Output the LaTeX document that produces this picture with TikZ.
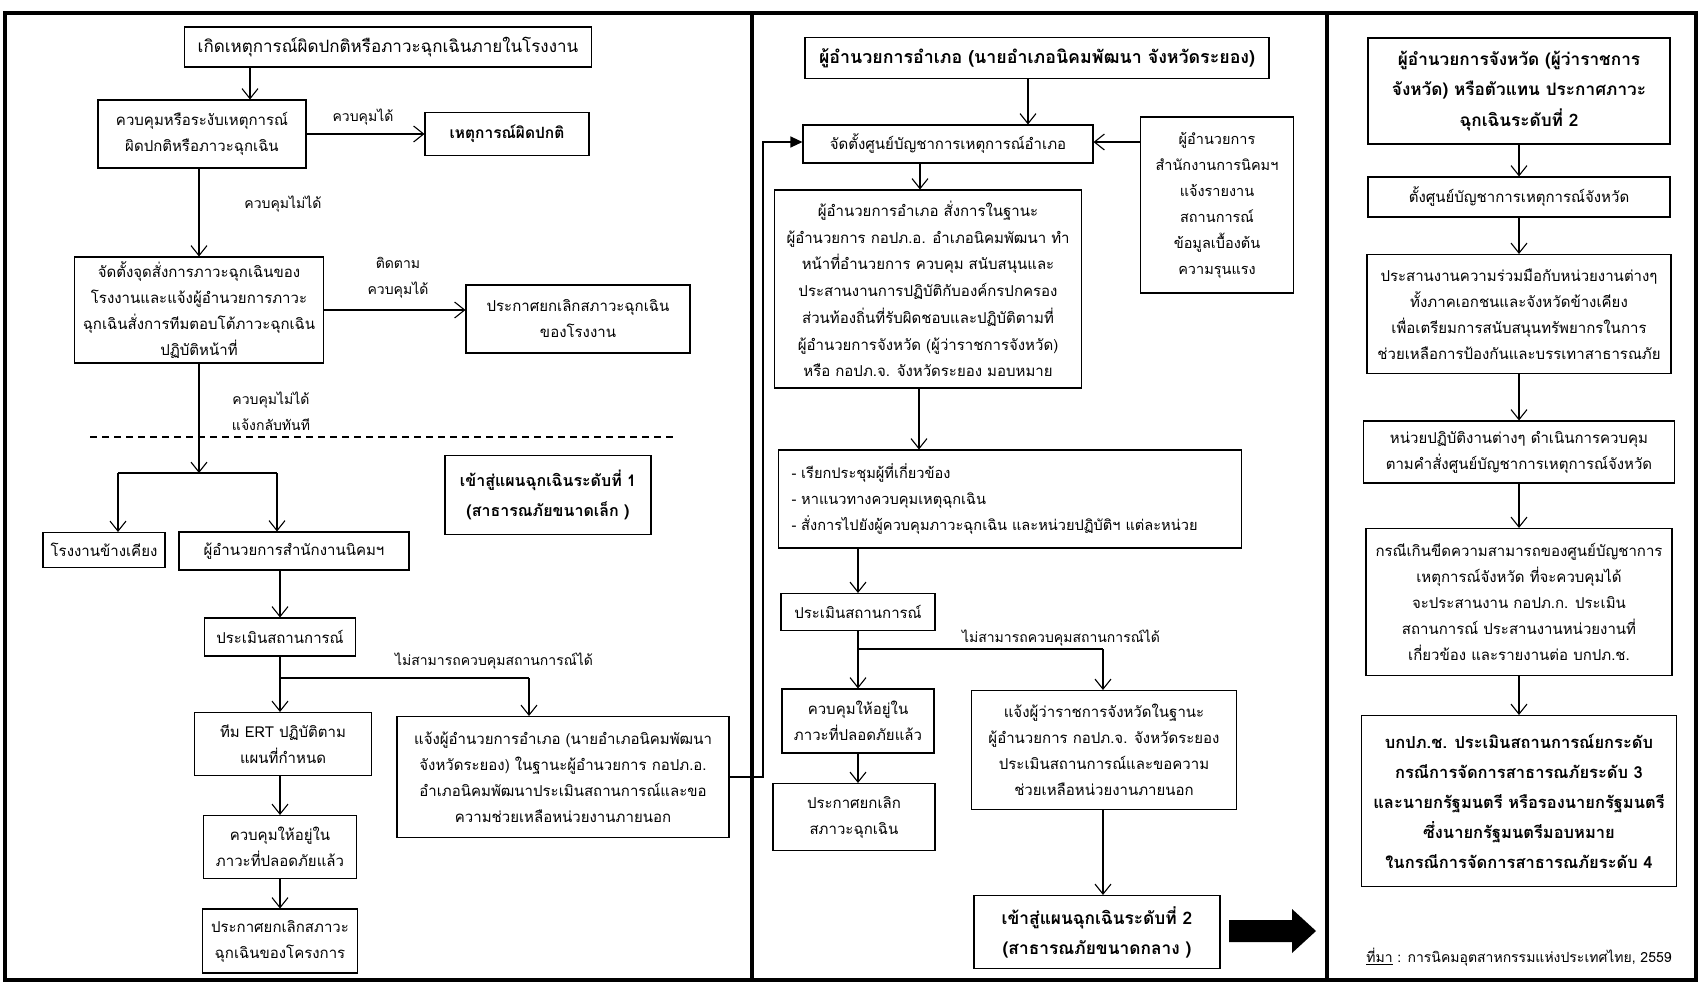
\documentclass[tikz,border=0pt]{standalone}
\usepackage{fontspec}
\setmainfont[Script=Thai]{Loma}
\usetikzlibrary{arrows.meta}
\begin{document}
\begin{tikzpicture}[x=1pt,y=-1pt,
  box/.style={draw, line width=1.1pt, fill=white, align=center, inner sep=2pt, font=\fontsize{15}{26}\selectfont},
  bbox/.style={box, font=\fontsize{16.5}{30}\selectfont\bfseries},
  lbl/.style={font=\fontsize{14}{26}\selectfont, align=center, inner sep=0pt},
  arr/.style={line width=1.1pt, -{Straight Barb[length=10pt,width=16pt]}},
  ln/.style={line width=1.1pt},
  frame/.style={line width=4pt}]
\useasboundingbox (0,0) rectangle (1701,988);
% frame
\draw[frame] (5,13) rectangle (1696,980);
\draw[frame] (752,13) -- (752,980);
\draw[frame] (1327,13) -- (1327,980);

% ---------------- left panel
\node[box, font=\fontsize{17}{26}\selectfont, minimum width=407, minimum height=40] (b1) at (388,47) {เกิดเหตุการณ์ผิดปกติหรือภาวะฉุกเฉินภายในโรงงาน};
\node[box, minimum width=208, minimum height=68] (b2) at (202,134) {ควบคุมหรือระงับเหตุการณ์\\ผิดปกติหรือภาวะฉุกเฉิน};
\node[bbox, font=\fontsize{15.5}{28}\selectfont\bfseries, minimum width=164, minimum height=43] (b3) at (507,134) {เหตุการณ์ผิดปกติ};
\node[box, minimum width=249, minimum height=106] (b4) at (199,310) {จัดตั้งจุดสั่งการภาวะฉุกเฉินของ\\โรงงานและแจ้งผู้อำนวยการภาวะ\\ฉุกเฉินสั่งการทีมตอบโต้ภาวะฉุกเฉิน\\ปฏิบัติหน้าที่};
\node[box, minimum width=224, minimum height=68] (b5) at (578,319) {ประกาศยกเลิกสภาวะฉุกเฉิน\\ของโรงงาน};
\node[box, minimum width=122, minimum height=35] (b6) at (104,550) {โรงงานข้างเคียง};
\node[box, minimum width=230, minimum height=38] (b7) at (294,551) {ผู้อำนวยการสำนักงานนิคมฯ};
\node[bbox, font=\fontsize{16}{30}\selectfont\bfseries, minimum width=206, minimum height=79] (b8) at (548,495) {เข้าสู่แผนฉุกเฉินระดับที่ 1\\(สาธารณภัยขนาดเล็ก )};
\node[box, minimum width=151, minimum height=38] (b9) at (280,637) {ประเมินสถานการณ์};
\node[box, minimum width=177, minimum height=63] (b10) at (283,744) {ทีม ERT ปฏิบัติตาม\\แผนที่กำหนด};
\node[box, minimum width=332, minimum height=121] (b11) at (563,777) {แจ้งผู้อำนวยการอำเภอ (นายอำเภอนิคมพัฒนา\\จังหวัดระยอง) ในฐานะผู้อำนวยการ กอปภ.อ.\\อำเภอนิคมพัฒนาประเมินสถานการณ์และขอ\\ความช่วยเหลือหน่วยงานภายนอก};
\node[box, minimum width=153, minimum height=63] (b12) at (280,847) {ควบคุมให้อยู่ใน\\ภาวะที่ปลอดภัยแล้ว};
\node[box, minimum width=155, minimum height=64] (b13) at (280,941) {ประกาศยกเลิกสภาวะ\\ฉุกเฉินของโครงการ};

\node[lbl] (l1) at (363,117) {ควบคุมได้};
\node[lbl] (l2) at (283,204) {ควบคุมไม่ได้};
\node[lbl] (l3) at (398,278) {ติดตาม\\ควบคุมได้};
\node[lbl] (l4) at (271,411) {ควบคุมไม่ได้\\แจ้งกลับทันที};
\node[lbl] (l5) at (494,661) {ไม่สามารถควบคุมสถานการณ์ได้};

\draw[arr] (b1.south -| 250,0) -- (b2.north -| 250,0);
\draw[arr] (b2.east) -- (b2.east -| b3.west);
\draw[arr] (b2.south -| b4.north) -- (b4.north);
\draw[arr] (b4.east) -- (b4.east -| b5.west);
\coordinate (j0) at (199,473);
\coordinate (ja) at (118,473);
\coordinate (jb) at (277,473);
\draw[arr] (b4.south) -- (j0);
\draw[ln] (ja) -- (jb);
\draw[arr] (ja) -- (ja |- b6.north);
\draw[arr] (jb) -- (jb |- b7.north);
\coordinate (d1) at (90,437);
\coordinate (d2) at (673,437);
\draw[ln, dash pattern=on 7pt off 5pt] (d1) -- (d2);
\draw[arr] (b7.south -| b9.north) -- (b9.north);
\coordinate (k1) at (280,678);
\coordinate (k2) at (529,678);
\draw[ln] (b9.south) -- (k1) -- (k2);
\draw[arr] (k1) -- (k1 |- b10.north);
\draw[arr] (k2) -- (k2 |- b11.north);
\draw[arr] (b10.south -| k1) -- (b12.north);
\draw[arr] (b12.south) -- (b13.north);

% ---------------- middle panel
\node[bbox, font=\fontsize{17.8}{30}\selectfont\bfseries, minimum width=464, minimum height=41] (m1) at (1037,58) {ผู้อำนวยการอำเภอ (นายอำเภอนิคมพัฒนา จังหวัดระยอง)};
\node[box, minimum width=290, minimum height=38] (m2) at (948,144) {จัดตั้งศูนย์บัญชาการเหตุการณ์อำเภอ};
\node[box, font=\fontsize{14.5}{26}\selectfont, minimum width=153, minimum height=176] (m3) at (1217,205) {ผู้อำนวยการ\\สำนักงานการนิคมฯ\\แจ้งรายงาน\\สถานการณ์\\ข้อมูลเบื้องต้น\\ความรุนแรง};
\node[box, minimum width=307, minimum height=198, font=\fontsize{15}{26.7}\selectfont] (m4) at (928,289) {ผู้อำนวยการอำเภอ สั่งการในฐานะ\\ผู้อำนวยการ กอปภ.อ. อำเภอนิคมพัฒนา ทำ\\หน้าที่อำนวยการ ควบคุม สนับสนุนและ\\ประสานงานการปฏิบัติกับองค์กรปกครอง\\ส่วนท้องถิ่นที่รับผิดชอบและปฏิบัติตามที่\\ผู้อำนวยการจังหวัด (ผู้ว่าราชการจังหวัด)\\หรือ กอปภ.จ. จังหวัดระยอง มอบหมาย};
\node[box, align=left, text width=437, inner xsep=13, minimum height=98, font=\fontsize{14.6}{26}\selectfont] (m5) at (1010,499) {- เรียกประชุมผู้ที่เกี่ยวข้อง\\- หาแนวทางควบคุมเหตุฉุกเฉิน\\- สั่งการไปยังผู้ควบคุมภาวะฉุกเฉิน และหน่วยปฏิบัติฯ แต่ละหน่วย};
\node[box, minimum width=154, minimum height=37] (m6) at (858,612) {ประเมินสถานการณ์};
\node[box, minimum width=152, minimum height=64] (m7) at (858,721) {ควบคุมให้อยู่ใน\\ภาวะที่ปลอดภัยแล้ว};
\node[box, minimum width=265, minimum height=119] (m8) at (1104,750) {แจ้งผู้ว่าราชการจังหวัดในฐานะ\\ผู้อำนวยการ กอปภ.จ. จังหวัดระยอง\\ประเมินสถานการณ์และขอความ\\ช่วยเหลือหน่วยงานภายนอก};
\node[box, minimum width=162, minimum height=67] (m9) at (854,817) {ประกาศยกเลิก\\สภาวะฉุกเฉิน};
\node[bbox, font=\fontsize{17.3}{30}\selectfont\bfseries, minimum width=246, minimum height=73] (m10) at (1097,932) {เข้าสู่แผนฉุกเฉินระดับที่ 2\\(สาธารณภัยขนาดกลาง )};
\node[lbl] (l6) at (1061,638) {ไม่สามารถควบคุมสถานการณ์ได้};

\coordinate (c1) at (763,777);
\coordinate (c2) at (763,142);
\draw[ln, -{Triangle[length=12pt,width=11pt]}] (b11.east) -- (c1) -- (c2) -- (c2 -| m2.west);

\draw[arr] (m1.south -| 1028,0) -- (m2.north -| 1028,0);
\draw[arr] (m3.west |- 0,142) -- (m2.east |- 0,142);
\draw[arr] (m2.south -| 920,0) -- (m4.north -| 920,0);
\draw[arr] (m4.south -| 919,0) -- (m5.north -| 919,0);
\draw[arr] (m5.south -| m6.north) -- (m6.north);
\coordinate (q1) at (858,649);
\coordinate (q2) at (1103,649);
\draw[ln] (m6.south) -- (q1) -- (q2);
\draw[arr] (q1) -- (m7.north);
\draw[arr] (q2) -- (q2 |- m8.north);
\draw[arr] (m7.south) -- (m7.south |- m9.north);
\draw[arr] (m8.south -| q2) -- (m10.north -| q2);
\fill (1229,920) -- (1292,920) -- (1292,909) -- (1316,931) -- (1292,953) -- (1292,942) -- (1229,942) -- cycle;

% ---------------- right panel
\node[bbox, font=\fontsize{17.2}{30.5}\selectfont\bfseries, minimum width=302, minimum height=106] (r1) at (1519,91) {ผู้อำนวยการจังหวัด (ผู้ว่าราชการ\\จังหวัด) หรือตัวแทน ประกาศภาวะ\\ฉุกเฉินระดับที่ 2};
\node[box, minimum width=302, minimum height=40] (r2) at (1519,197) {ตั้งศูนย์บัญชาการเหตุการณ์จังหวัด};
\node[box, minimum width=304, minimum height=119] (r3) at (1519,314) {ประสานงานความร่วมมือกับหน่วยงานต่างๆ\\ทั้งภาคเอกชนและจังหวัดข้างเคียง\\เพื่อเตรียมการสนับสนุนทรัพยากรในการ\\ช่วยเหลือการป้องกันและบรรเทาสาธารณภัย};
\node[box, minimum width=311, minimum height=62] (r4) at (1519,452) {หน่วยปฏิบัติงานต่างๆ ดำเนินการควบคุม\\ตามคำสั่งศูนย์บัญชาการเหตุการณ์จังหวัด};
\node[box, minimum width=306, minimum height=147] (r5) at (1519,602) {กรณีเกินขีดความสามารถของศูนย์บัญชาการ\\เหตุการณ์จังหวัด ที่จะควบคุมได้\\จะประสานงาน กอปภ.ก. ประเมิน\\สถานการณ์ ประสานงานหน่วยงานที่\\เกี่ยวข้อง และรายงานต่อ บกปภ.ช.};
\node[bbox, minimum width=315, minimum height=171] (r6) at (1519,801) {บกปภ.ช. ประเมินสถานการณ์ยกระดับ\\กรณีการจัดการสาธารณภัยระดับ 3\\และนายกรัฐมนตรี หรือรองนายกรัฐมนตรี\\ซึ่งนายกรัฐมนตรีมอบหมาย\\ในกรณีการจัดการสาธารณภัยระดับ 4};
\node[lbl] (src) at (1519,957) {\underline{ที่มา} : การนิคมอุตสาหกรรมแห่งประเทศไทย, 2559};

\draw[arr] (r1.south) -- (r2.north);
\draw[arr] (r2.south) -- (r3.north);
\draw[arr] (r3.south) -- (r4.north);
\draw[arr] (r4.south) -- (r5.north);
\draw[arr] (r5.south) -- (r6.north);
\end{tikzpicture}
\end{document}
